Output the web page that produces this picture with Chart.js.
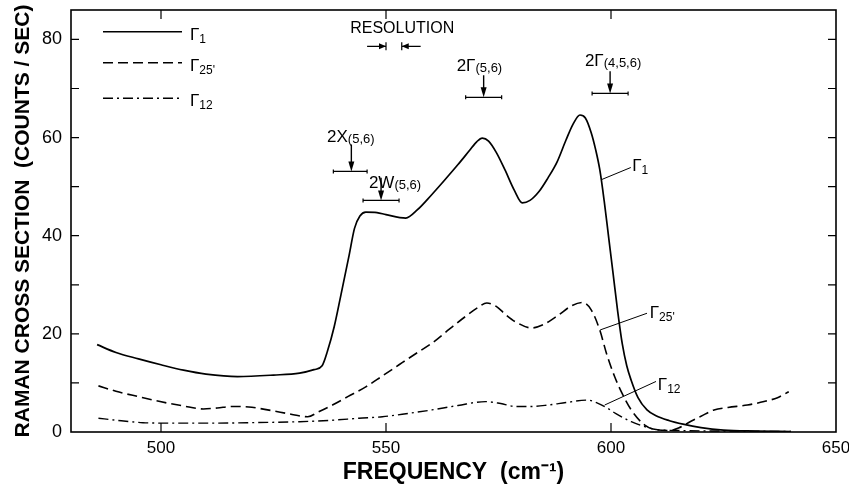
<!DOCTYPE html>
<html><head><meta charset="utf-8">
<script src="https://cdn.jsdelivr.net/npm/chart.js@4.4.1/dist/chart.umd.min.js"></script>
<style>html,body{margin:0;padding:0;background:#fff}#wrap{width:849px;height:487px}</style>
</head><body><div id="wrap"><canvas id="c" width="849" height="487"></canvas></div>
<script>
// ---- data ----
const gamma1X = [485.8,490,495,500,505,510,517,525,530.8,534,535.8,537,538.5,540,541.8,543,544.2,545.5,548,550,554.4,557,560,563,566,568.5,570.2,571.4,572.8,574.5,576.5,578.5,580.3,582,584,586,588,590,591.6,593.1,594.3,595.6,596.6,597.5,598.5,599.5,600.5,601.5,602.5,603.5,604.5,606,608,610,613,616,620,625,632,640];
const gamma1Y = [17.8,16.2,14.9,13.7,12.6,11.8,11.3,11.6,12.0,12.7,13.5,16.5,21.5,28,36,41.5,44,44.8,44.7,44.3,43.6,45.3,48.2,51.3,54.5,57.3,59.2,59.9,59.3,57.0,53.3,49.3,46.7,47.2,49,51.8,55,59.5,62.8,64.6,64.0,61,57.5,53.5,47,39.5,32,24.5,18,13.5,10.5,7,4.5,3.3,2.3,1.6,0.9,0.4,0.2,0.1];

const gamma25X = [486.1,490,495,499.8,505,509.4,512.5,516,519.5,521.9,525,528.5,532.6,535,538.1,541.5,545.5,549,552.9,556.5,560.2,564,567.6,570.5,572.4,574.5,576.5,578.7,582.4,585,588.3,591,593.6,595.6,597.5,599,600.8,602.5,604.5,607.5,610.4,613,615,617,620,622.9,626,630.3,634,637,639.5];
const gamma25Y = [9.4,8.3,7.2,6.2,5.3,4.7,4.9,5.2,5.1,4.8,4.3,3.7,3.1,4.1,5.5,7.2,9.2,11.3,13.7,15.9,18.1,20.9,23.5,25.4,26.3,25.6,24.0,22.5,21.2,21.9,23.8,25.6,26.4,24.9,20.8,16,11.3,7.8,4.5,1.4,0.4,0.3,0.8,1.8,3.2,4.5,5.0,5.5,6.2,7.0,8.2];

const gamma12X = [486.1,490,496,502,510,520,530.8,538,544,549.2,555,560.2,566,572.1,575.5,578.7,582,586,590,594.7,597,599.3,601,604.5,607.5,610,615,625,640];
const gamma12Y = [2.8,2.4,1.9,1.8,1.8,1.9,2.1,2.4,2.8,3.1,3.8,4.5,5.4,6.2,5.8,5.2,5.2,5.5,6.0,6.5,5.9,4.8,3.8,2.1,1.1,0.5,0.3,0.2,0.1];

const xTickValues = [500,550,600,650];
const yTickValues = [0,10,20,30,40,50,60,70,80];
const yLabelValues = [0,20,40,60,80];
const seriesNames = ['\u0393|1','\u0393|25\'','\u0393|12'];

// ---- styles ----
const DASH = [[], [10,5], [10,4,2,4]];
const SANS = "'Liberation Sans',Arial,sans-serif";

function pts(xs, ys){ return xs.map((x,i)=>({x:x, y:ys[i]})); }

function drawSub(ctx, main, sub, x, y, mainSize, subSize, drop){
  ctx.font = mainSize + "px " + SANS;
  ctx.textAlign='left'; ctx.textBaseline='alphabetic';
  ctx.fillText(main, x, y);
  const w = ctx.measureText(main).width;
  ctx.font = subSize + "px " + SANS;
  ctx.fillText(sub, x + w, y + drop);
}

function noPad(s){ s.paddingLeft=0; s.paddingRight=0; s.paddingTop=0; s.paddingBottom=0; }

const decor = {
  id:'decor',
  afterDraw(chart){
    const ctx = chart.ctx, a = chart.chartArea;
    const xs = chart.scales.x, ys = chart.scales.y;
    const X = v=>xs.getPixelForValue(v), Y = v=>ys.getPixelForValue(v);
    ctx.save();
    ctx.strokeStyle='#000'; ctx.fillStyle='#000';
    // frame
    ctx.lineWidth=1.6; ctx.setLineDash([]);
    ctx.strokeRect(a.left, a.top, a.right-a.left, a.bottom-a.top);
    // inward ticks
    ctx.lineWidth=1.2;
    ctx.beginPath();
    xTickValues.forEach(v=>{ if(v>xs.min && v<xs.max){ const p=X(v);
      ctx.moveTo(p,a.bottom); ctx.lineTo(p,a.bottom-9);
      ctx.moveTo(p,a.top); ctx.lineTo(p,a.top+9);} });
    yTickValues.forEach(v=>{ if(v>ys.min && v<ys.max){ const p=Y(v);
      ctx.moveTo(a.left,p); ctx.lineTo(a.left+8,p);
      ctx.moveTo(a.right,p); ctx.lineTo(a.right-8,p);} });
    ctx.stroke();

    // legend
    const rows=[31.7,62.7,98.3];
    ctx.lineWidth=1.6;
    chart.data.datasets.forEach((ds,i)=>{
      ctx.setLineDash(DASH[i]);
      ctx.beginPath(); ctx.moveTo(103,rows[i]); ctx.lineTo(182,rows[i]); ctx.stroke();
      ctx.setLineDash([]);
      const [m,s]=seriesNames[i].split('|');
      drawSub(ctx,m,s,190,rows[i]+8,17,12,3);
    });
    ctx.setLineDash([]);

    // curve labels with leader lines (data coordinates)
    const leaders=[
      {f:[597.8,51.4],t:[604.4,53.9],lx:604.7,ly:53.1,i:0},
      {f:[597.6,20.8],t:[608.0,24.2],lx:608.6,ly:23.3,i:1},
      {f:[598.6,5.5],t:[610.0,10.3],lx:610.4,ly:8.6,i:2}
    ];
    ctx.lineWidth=1;
    leaders.forEach(L=>{
      ctx.beginPath(); ctx.moveTo(X(L.f[0]),Y(L.f[1])); ctx.lineTo(X(L.t[0]),Y(L.t[1])); ctx.stroke();
      const [m,s]=seriesNames[L.i].split('|');
      drawSub(ctx,m,s,X(L.lx),Y(L.ly),17,12,3);
    });

    // marker annotations: label, arrow, bar
    const marks=[
      {m:'2\u0393',s:'(5,6)',tx:565.7,ty:73.5,ax:571.7,at:72.7,by:68.2,b0:567.7,b1:575.7},
      {m:'2\u0393',s:'(4,5,6)',tx:594.2,ty:74.5,ax:599.8,at:73.5,by:69.0,b0:595.8,b1:603.8},
      {m:'2X',s:'(5,6)',tx:536.9,ty:59.0,ax:542.3,at:58.6,by:53.1,b0:538.3,b1:545.8},
      {m:'2W',s:'(5,6)',tx:546.2,ty:49.8,ax:548.9,at:51.8,by:47.2,b0:544.9,b1:552.9}
    ];
    marks.forEach(k=>{
      drawSub(ctx,k.m,k.s,X(k.tx),Y(k.ty),17,13,1);
      const ax=X(k.ax), top=Y(k.at), by=Y(k.by);
      ctx.lineWidth=1.4;
      ctx.beginPath(); ctx.moveTo(ax,top); ctx.lineTo(ax,by-8); ctx.stroke();
      ctx.beginPath(); ctx.moveTo(ax-3,by-10); ctx.lineTo(ax+3,by-10); ctx.lineTo(ax,by); ctx.closePath(); ctx.fill();
      ctx.lineWidth=1.2;
      const x0=X(k.b0), x1=X(k.b1);
      ctx.beginPath(); ctx.moveTo(x0,by); ctx.lineTo(x1,by);
      ctx.moveTo(x0,by-2); ctx.lineTo(x0,by+2); ctx.moveTo(x1,by-2); ctx.lineTo(x1,by+2);
      ctx.stroke();
    });

    // resolution
    ctx.font="16px "+SANS; ctx.textAlign='center'; ctx.textBaseline='alphabetic';
    ctx.fillText('RESOLUTION', X(553.6), Y(81.4));
    const ry=Y(78.6), l0=X(545.8), l1=X(550.0), r0=X(553.5), r1=X(557.7);
    ctx.lineWidth=1.2;
    ctx.beginPath();
    ctx.moveTo(l0,ry); ctx.lineTo(l1,ry); ctx.moveTo(l1,ry-4); ctx.lineTo(l1,ry+4);
    ctx.moveTo(r0,ry); ctx.lineTo(r1,ry); ctx.moveTo(r0,ry-4); ctx.lineTo(r0,ry+4);
    ctx.stroke();
    ctx.beginPath(); ctx.moveTo(l1-7,ry-3); ctx.lineTo(l1,ry); ctx.lineTo(l1-7,ry+3); ctx.closePath(); ctx.fill();
    ctx.beginPath(); ctx.moveTo(r0+7,ry-3); ctx.lineTo(r0,ry); ctx.lineTo(r0+7,ry+3); ctx.closePath(); ctx.fill();
    ctx.restore();
  }
};

Chart.defaults.font.family = SANS;
Chart.defaults.color = '#000';

new Chart(document.getElementById('c'), {
  type:'line',
  data:{ datasets:[
    {label:'\u03931', data:pts(gamma1X,gamma1Y), borderColor:'#000', borderWidth:1.7, borderDash:DASH[0], pointRadius:0, fill:false, cubicInterpolationMode:'monotone'},
    {label:'\u039325\'', data:pts(gamma25X,gamma25Y), borderColor:'#000', borderWidth:1.6, borderDash:DASH[1], pointRadius:0, fill:false, cubicInterpolationMode:'monotone'},
    {label:'\u039312', data:pts(gamma12X,gamma12Y), borderColor:'#000', borderWidth:1.4, borderDash:DASH[2], pointRadius:0, fill:false, cubicInterpolationMode:'monotone'}
  ]},
  options:{
    responsive:false, animation:false, devicePixelRatio:1,
    layout:{padding:{top:10,right:13,left:0,bottom:0}},
    plugins:{legend:{display:false}, tooltip:{enabled:false}},
    scales:{
      x:{type:'linear', min:480, max:650,
        afterBuildTicks:s=>{s.ticks=xTickValues.map(v=>({value:v}));},
        afterFit:s=>{s.height=55; noPad(s);},
        grid:{display:false, drawTicks:false}, border:{display:false},
        ticks:{padding:6, maxRotation:0, autoSkip:false, font:{family:SANS,size:17}, color:'#000'},
        title:{display:true, text:'FREQUENCY  (cm\u207B\u00B9)', font:{family:SANS,size:23,weight:'bold'}, padding:{top:0,bottom:1}, color:'#000'}
      },
      y:{type:'linear', min:0, max:86,
        afterBuildTicks:s=>{s.ticks=yTickValues.map(v=>({value:v}));},
        afterFit:s=>{s.width=71; noPad(s);},
        grid:{display:false, drawTicks:false}, border:{display:false},
        ticks:{padding:9, autoSkip:false, font:{family:SANS,size:18}, color:'#000',
          callback:v=>yLabelValues.includes(v)?String(v):''},
        title:{display:true, text:'RAMAN CROSS SECTION  (COUNTS / SEC)', font:{family:SANS,size:21,weight:'bold'}, padding:{top:11,bottom:0}, color:'#000'}
      }
    }
  },
  plugins:[decor]
});
</script></body></html>
